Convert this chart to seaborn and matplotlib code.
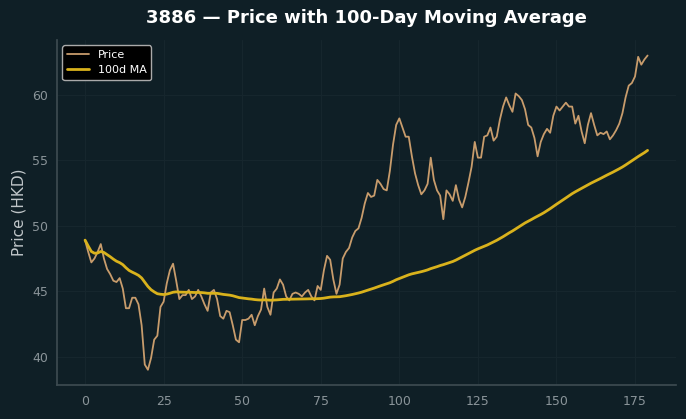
import numpy as np
import pandas as pd
import matplotlib
matplotlib.use("Agg")
import matplotlib.pyplot as plt
import seaborn as sns

TICKER = "3886"
WINDOW = 100

# daily closing prices (HKD)
price = [
    48.9, 48.0, 47.2, 47.5, 48.0, 48.6, 47.5, 46.7, 46.3, 45.8,
    45.7, 46.0, 45.2, 43.7, 43.7, 44.5, 44.5, 44.0, 42.4, 39.4,
    39.0, 39.9, 41.3, 41.6, 43.8, 44.2, 45.6, 46.6, 47.1, 45.8,
    44.4, 44.7, 44.7, 45.1, 44.4, 44.6, 45.1, 44.6, 44.0, 43.5,
    44.9, 45.1, 44.4, 43.1, 42.9, 43.5, 43.4, 42.4, 41.3, 41.1,
    42.8, 42.8, 42.9, 43.2, 42.4, 43.1, 43.6, 45.2, 43.8, 43.2,
    44.9, 45.2, 45.9, 45.5, 44.6, 44.3, 44.8, 44.9, 44.8, 44.6,
    44.9, 45.1, 44.6, 44.3, 45.4, 45.1, 46.6, 47.7, 47.4, 45.9,
    44.8, 45.5, 47.5, 48.0, 48.3, 49.1, 49.6, 49.8, 50.6, 51.7,
    52.5, 52.2, 52.3, 53.5, 53.2, 52.8, 52.7, 54.2, 56.2, 57.7,
    58.2, 57.5, 56.8, 56.8, 55.3, 54.0, 53.1, 52.4, 52.7, 53.2,
    55.2, 53.5, 52.7, 52.3, 50.5, 52.7, 52.4, 51.9, 53.1, 52.0,
    51.4, 52.2, 53.3, 54.5, 56.4, 55.2, 55.2, 56.8, 56.9, 57.5,
    56.5, 56.8, 58.1, 59.1, 59.8, 59.2, 58.7, 60.1, 59.9, 59.6,
    58.9, 57.7, 57.5, 56.7, 55.3, 56.4, 57.0, 57.4, 57.1, 58.4,
    59.1, 58.8, 59.1, 59.4, 59.1, 59.1, 57.8, 58.4, 57.2, 56.3,
    57.7, 58.6, 57.7, 56.9, 57.1, 57.0, 57.2, 56.6, 56.9, 57.3,
    57.8, 58.6, 59.8, 60.7, 60.9, 61.4, 62.9, 62.3, 62.7, 63.0,
]

df = pd.DataFrame({"day": np.arange(len(price)), "price": price})
df["ma"] = df["price"].rolling(WINDOW, min_periods=1).mean()

BG = "#0f1f26"
sns.set_theme(style="dark")
plt.rcParams.update({
    "figure.facecolor": BG,
    "axes.facecolor": BG,
    "axes.edgecolor": "#3c4a50",
    "axes.labelcolor": "#c0c6c9",
    "xtick.color": "#8a9499",
    "ytick.color": "#8a9499",
    "text.color": "white",
})
plt.rcParams["font.family"] = ["DejaVu Sans"]

fig, ax = plt.subplots(figsize=(6.86, 4.19), dpi=100)
sns.lineplot(data=df, x="day", y="price", ax=ax, color="#c89c6c", lw=1.3, label="Price")
sns.lineplot(data=df, x="day", y="ma", ax=ax, color="#d9b21c", lw=2, label=f"{WINDOW}d MA")

ax.grid(True, color="#16262d", lw=0.8)
for s in ["top", "right"]:
    ax.spines[s].set_visible(False)
ax.tick_params(axis="both", labelsize=9, length=3, color="#3c4a50")
ax.set_xlabel("")
ax.set_ylabel("Price (HKD)", fontsize=11)
ax.set_title(f"{TICKER} \u2014 Price with 100-Day Moving Average", fontsize=13,
             fontweight="bold", color="white", pad=12)

leg = ax.legend(loc="upper left", fontsize=8, facecolor="black", edgecolor="#aaaaaa",
                framealpha=1.0)
for t in leg.get_texts():
    t.set_color("white")

fig.subplots_adjust(left=0.083, right=0.985, top=0.905, bottom=0.08)
fig.savefig("out.png", dpi=100, facecolor=BG)
